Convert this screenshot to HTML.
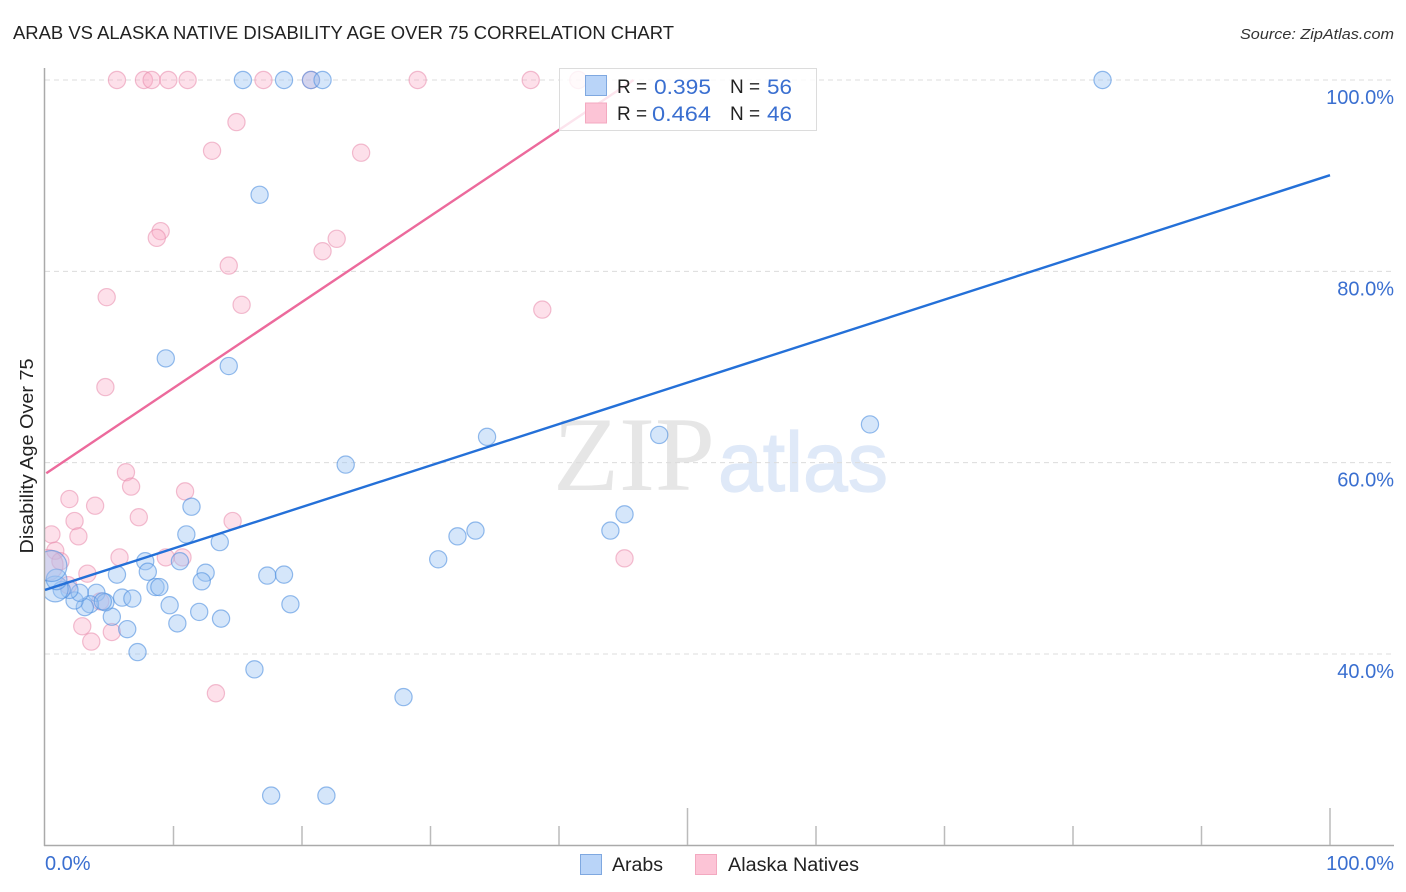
<!DOCTYPE html>
<html lang="en">
<head>
<meta charset="utf-8">
<title>Arab vs Alaska Native Disability Age Over 75 Correlation Chart</title>
<style>
html,body{margin:0;padding:0;background:#fff;width:1406px;height:892px;overflow:hidden}
svg{display:block;font-family:"Liberation Sans",sans-serif}
</style>
</head>
<body>
<svg id="chart" width="1406" height="892" viewBox="0 0 1406 892" xmlns="http://www.w3.org/2000/svg">
  <defs>
    <clipPath id="plotClip"><rect x="45" y="60" width="1350" height="786"/></clipPath>
  </defs>
  <rect x="0" y="0" width="1406" height="892" fill="#fff"/>
  <text x="13" y="39" font-size="18.5" fill="#222" textLength="661" lengthAdjust="spacingAndGlyphs">ARAB VS ALASKA NATIVE DISABILITY AGE OVER 75 CORRELATION CHART</text>
  <text x="1394" y="39" font-size="15" font-style="italic" fill="#333" text-anchor="end" textLength="154" lengthAdjust="spacingAndGlyphs">Source: ZipAtlas.com</text>
  <text x="553" y="490" font-family="'Liberation Serif',serif" font-size="106" fill="#e6e6e6" textLength="162" lengthAdjust="spacingAndGlyphs">ZIP</text>
  <text x="718" y="491" font-size="84" fill="#dfe9f8" stroke="#dfe9f8" stroke-width="1.2" textLength="170" lengthAdjust="spacingAndGlyphs">atlas</text>
  <g id="grid"></g>
  <g id="pinkPoints" clip-path="url(#plotClip)"></g>
  <g id="bluePoints" clip-path="url(#plotClip)"></g>
  <g id="axes"></g>
  <g id="trends"></g>
  <g>
    <rect x="559.5" y="68.5" width="257" height="62" fill="#fff" fill-opacity="0.82" stroke="#dcdcdc" stroke-width="1"/>
    <rect x="585.5" y="75.5" width="21" height="20" fill="#b9d4f8" stroke="#7fa8e0"/>
    <rect x="585.5" y="103" width="21" height="20" fill="#fcc4d6" stroke="#f3a9c0"/>
    <text x="617" y="93" font-size="19" fill="#222">R =</text>
    <text x="654" y="94" font-size="21" fill="#3a6fd0" textLength="57" lengthAdjust="spacingAndGlyphs">0.395</text>
    <text x="730" y="93" font-size="19" fill="#222">N =</text>
    <text x="767" y="94" font-size="21" fill="#3a6fd0" textLength="25" lengthAdjust="spacingAndGlyphs">56</text>
    <text x="617" y="120" font-size="19" fill="#222">R =</text>
    <text x="652" y="121" font-size="21" fill="#3a6fd0" textLength="59" lengthAdjust="spacingAndGlyphs">0.464</text>
    <text x="730" y="120" font-size="19" fill="#222">N =</text>
    <text x="767" y="121" font-size="21" fill="#3a6fd0" textLength="25" lengthAdjust="spacingAndGlyphs">46</text>
  </g>
  <text transform="translate(33,456) rotate(-90)" font-size="18" fill="#222" text-anchor="middle" textLength="195" lengthAdjust="spacingAndGlyphs">Disability Age Over 75</text>
  <g>
    <rect x="580.5" y="854.5" width="21" height="20" fill="#b9d4f8" stroke="#7fa8e0"/>
    <text x="612" y="871" font-size="19" fill="#222" textLength="51" lengthAdjust="spacingAndGlyphs">Arabs</text>
    <rect x="695.5" y="854.5" width="21" height="20" fill="#fcc4d6" stroke="#f3a9c0"/>
    <text x="728" y="871" font-size="19" fill="#222" textLength="131" lengthAdjust="spacingAndGlyphs">Alaska Natives</text>
  </g>
</svg>
<script>
const arabX = [15.4,18.6,20.7,21.6,82.3,16.7,9.4,14.3,34.4,47.8,64.2,23.4,11.4,11.0,13.6,45.1,44.0,32.1,33.5,30.6,7.8,10.5,5.6,8.0,12.5,12.2,17.3,18.6,8.6,8.9,19.1,9.7,12.0,13.7,10.3,6.4,5.2,7.2,16.3,27.9,17.6,21.9,6.0,6.8,4.0,4.7,3.5,3.1,2.3,2.7,1.9,1.3,0.8,0.9,0.5,4.5];
const arabY = [100,100,100,100,100,88.0,70.9,70.1,62.7,62.9,64.0,59.8,55.4,52.5,51.7,54.6,52.9,52.3,52.9,49.9,49.7,49.7,48.3,48.6,48.5,47.6,48.2,48.3,47.0,47.0,45.2,45.1,44.4,43.7,43.2,42.6,43.9,40.2,38.4,35.5,25.2,25.2,45.9,45.8,46.4,45.4,45.2,44.9,45.6,46.4,46.7,46.7,46.8,47.8,49.2,45.5];
const arabWeight = [1,1,1,1,1,1,1,1,1,1,1,1,1,1,1,1,1,1,1,1,1,1,1,1,1,1,1,1,1,1,1,1,1,1,1,1,1,1,1,1,1,1,1,1,1,1,1,1,1,1,1,1,1.5,1.2,1.8,1];
const nativeX = [5.6,7.7,8.3,9.6,11.1,17.0,20.7,29.0,37.8,41.5,14.9,13.0,24.6,9.0,8.7,22.7,21.6,14.3,4.8,15.3,38.7,4.7,6.3,6.7,1.9,10.9,3.9,7.3,2.3,14.6,0.5,2.6,0.8,1.2,5.8,9.4,10.7,45.1,3.3,0.2,1.8,4.3,2.9,5.2,3.6,13.3];
const nativeY = [100,100,100,100,100,100,100,100,100,100,95.6,92.6,92.4,84.2,83.5,83.4,82.1,80.6,77.3,76.5,76.0,67.9,59.0,57.5,56.2,57.0,55.5,54.3,53.9,53.9,52.5,52.3,50.8,49.7,50.1,50.1,50.1,50.0,48.4,49.3,47.2,45.5,42.9,42.3,41.3,35.9];
const nativeWeight = [1,1,1,1,1,1,1,1,1,1,1,1,1,1,1,1,1,1,1,1,1,1,1,1,1,1,1,1,1,1,1,1,1,1,1,1,1,1,1,1.8,1,1,1,1,1,1];
const arabTrendX = [0,100];
const arabTrendY = [46.7,90.05];
const nativeTrendX = [0.1,45.8];
const nativeTrendY = [58.9,100];
const yTickValues = [40,60,80,100];
const yTickLabels = ['40.0%','60.0%','80.0%','100.0%'];
const xTickValues = [10,20,30,40,50,60,70,80,90,100];
const xEndValues = [0,100];
const xEndLabels = ['0.0%','100.0%'];

const NS = 'http://www.w3.org/2000/svg';
function sx(v){ return 45 + v * 12.85; }
function sy(v){ return 80 + (100 - v) * 9.567; }
function make(tag, attrs, parent){
  const el = document.createElementNS(NS, tag);
  for (const k in attrs) el.setAttribute(k, attrs[k]);
  parent.appendChild(el);
  return el;
}

const grid = document.getElementById('grid');
const axes = document.getElementById('axes');
yTickValues.forEach(function(v, i){
  const line = make('line', {x1:45, x2:1394, y1:sy(v), y2:sy(v), stroke:'#dcdcdc', 'stroke-width':1, 'stroke-dasharray':'5 4'}, grid);
  
  
  const t = make('text', {x:1394, y:sy(v) + 24, 'font-size':20, fill:'#3a6fd0', 'text-anchor':'end'}, axes);
  t.textContent = yTickLabels[i];
  
  
});
const yAxis = make('line', {x1:44.5, x2:44.5, y1:68, y2:846, stroke:'#aaa', 'stroke-width':1.5}, axes);


const xAxis = make('line', {x1:44, x2:1394, y1:845.5, y2:845.5, stroke:'#aaa', 'stroke-width':1.5}, axes);


xTickValues.forEach(function(v){
  const top = (v === 50 || v === 100) ? 808 : 826;
  const tick = make('line', {x1:sx(v), x2:sx(v), y1:top, y2:845, stroke:'#bbb', 'stroke-width':1.5}, axes);
  
  
});
xEndValues.forEach(function(v, i){
  const t = make('text', {x: i === 0 ? sx(v) : 1394, y:870, 'font-size':20, fill:'#3a6fd0', 'text-anchor': i === 0 ? 'start' : 'end'}, axes);
  t.textContent = xEndLabels[i];
  
  
});

const pinkGroup = document.getElementById('pinkPoints');
nativeX.forEach(function(v, i){
  const c = make('circle', {cx:sx(v), cy:sy(nativeY[i]), r:8.6 * nativeWeight[i], fill:'#f9a8c4', 'fill-opacity':0.36, stroke:'#e88aab', 'stroke-opacity':0.55, 'stroke-width':1.2}, pinkGroup);
  
  
});
const blueGroup = document.getElementById('bluePoints');
arabX.forEach(function(v, i){
  const c = make('circle', {cx:sx(v), cy:sy(arabY[i]), r:8.6 * arabWeight[i], fill:'#9cc3f2', 'fill-opacity':0.42, stroke:'#4f8fe0', 'stroke-opacity':0.6, 'stroke-width':1.2}, blueGroup);
  
  
});

const trends = document.getElementById('trends');
const arabLine = make('line', {x1:sx(arabTrendX[0]), y1:sy(arabTrendY[0]), x2:sx(arabTrendX[1]), y2:sy(arabTrendY[1]), stroke:'#2470d8', 'stroke-width':2.4}, trends);


const nativeLine = make('line', {x1:sx(nativeTrendX[0]), y1:sy(nativeTrendY[0]), x2:sx(nativeTrendX[1]), y2:sy(nativeTrendY[1]), stroke:'#ec6a9c', 'stroke-width':2.4}, trends);


</script>
</body>
</html>
